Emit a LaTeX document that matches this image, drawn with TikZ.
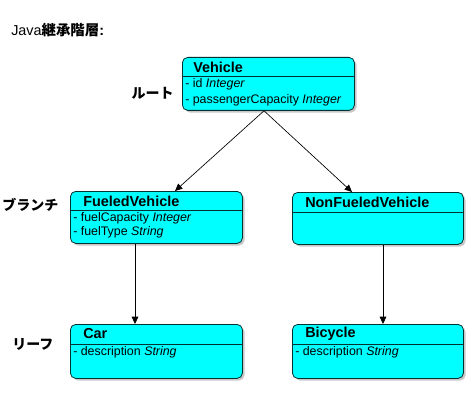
\documentclass[tikz,border=0pt]{standalone}
\usepackage{fontspec}
\setmainfont{Liberation Sans}
\newfontfamily\jpfont{Noto Sans CJK JP}
\usetikzlibrary{calc,shadows,arrows.meta}

\definecolor{boxcyan}{RGB}{0,255,255}
\definecolor{boxline}{RGB}{0,50,50}
\definecolor{boxshadow}{RGB}{200,200,200}

\tikzset{
  classbox/.style={draw=boxline,fill=boxcyan,rounded corners=4pt,line width=0.6pt,
    anchor=north west,inner sep=0pt,
    drop shadow={shadow xshift=1.6pt,shadow yshift=-1.6pt,fill=boxshadow,opacity=1}},
  sepline/.style={draw=boxline,line width=0.6pt},
  classname/.style={anchor=west,inner sep=0pt,font=\fontsize{10.8}{12}\selectfont\bfseries},
  attr/.style={anchor=west,inner sep=0pt,font=\fontsize{9.3}{10}\selectfont},
  level/.style={inner sep=0pt,font=\jpfont\fontsize{10.5}{12}\selectfont\bfseries},
  inherit/.style={-{Triangle[length=5.5pt,width=5pt]},line width=0.5pt}
}

\begin{document}
\begin{tikzpicture}[x=0.75pt,y=-0.75pt]
\useasboundingbox (0,0) rectangle (470,420);

\node[anchor=west,inner sep=0pt,font=\fontsize{10.8}{12}\selectfont] (title) at (11,30)
  {Java{\jpfont\bfseries 継承階層}\textbf{:}};

% levels
\node[level,anchor=east] (root) at (174,93) {ルート};
\node[level,anchor=west] (branch) at (2,205) {ブランチ};
\node[level,anchor=west] (leaf) at (12,344) {リーフ};

% Vehicle
\node[classbox,minimum width=129pt,minimum height=39.75pt] (veh) at (182,57) {};
\draw[sepline] ($(veh.north west)+(0,19)$) -- ($(veh.north east)+(0,19)$);
\node[classname] (vehT) at ($(veh.north west)+(11,10)$) {Vehicle};
\node[attr] (vehA) at ($(veh.north west)+(3,27)$) {- id \textit{Integer}};
\node[attr] (vehB) at ($(veh.north west)+(3,43)$) {- passengerCapacity \textit{Integer}};

% FueledVehicle
\node[classbox,minimum width=129pt,minimum height=39pt] (fv) at (70,191) {};
\draw[sepline] ($(fv.north west)+(0,19)$) -- ($(fv.north east)+(0,19)$);
\node[classname] (fvT) at ($(fv.north west)+(13,10)$) {FueledVehicle};
\node[attr] (fvA) at ($(fv.north west)+(3,27)$) {- fuelCapacity \textit{Integer}};
\node[attr] (fvB) at ($(fv.north west)+(3,41)$) {- fuelType \textit{String}};

% NonFueledVehicle
\node[classbox,minimum width=128.25pt,minimum height=39pt] (nfv) at (292,192) {};
\draw[sepline] ($(nfv.north west)+(0,20)$) -- ($(nfv.north east)+(0,20)$);
\node[classname] (nfvT) at ($(nfv.north west)+(13,10)$) {NonFueledVehicle};

% Car
\node[classbox,minimum width=129pt,minimum height=40.5pt] (car) at (70,324) {};
\draw[sepline] ($(car.north west)+(0,20)$) -- ($(car.north east)+(0,20)$);
\node[classname] (carT) at ($(car.north west)+(13,10)$) {Car};
\node[attr] (carA) at ($(car.north west)+(3,28)$) {- description \textit{String}};

% Bicycle
\node[classbox,minimum width=128.25pt,minimum height=40.5pt] (bic) at (292,324) {};
\draw[sepline] ($(bic.north west)+(0,20)$) -- ($(bic.north east)+(0,20)$);
\node[classname] (bicT) at ($(bic.north west)+(13,10)$) {Bicycle};
\node[attr] (bicA) at ($(bic.north west)+(3,28)$) {- description \textit{String}};

% inheritance
\draw[inherit] ($(veh.south west)+(82,0)$) -- ($(fv.north west)+(105,0)$);
\draw[inherit] ($(veh.south west)+(82,0)$) -- ($(nfv.north west)+(60,0)$);
\draw[inherit] ($(fv.south west)+(65,0)$) -- ($(car.north west)+(65,0)$);
\draw[inherit] ($(nfv.south west)+(91,0)$) -- ($(bic.north west)+(91,0)$);
\end{tikzpicture}
\end{document}
